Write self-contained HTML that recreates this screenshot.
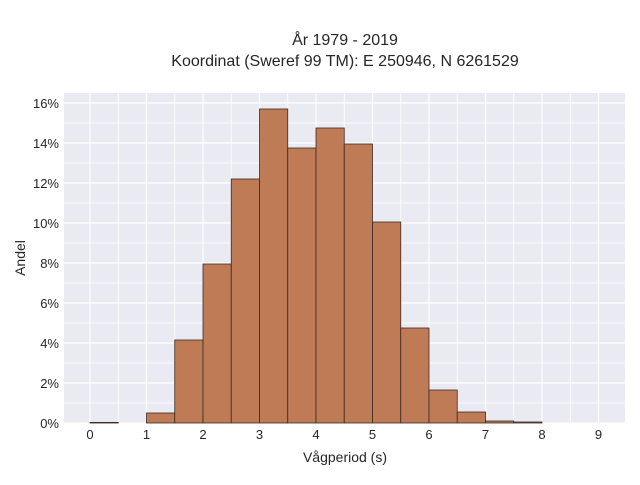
<!DOCTYPE html>
<html><head><meta charset="utf-8"><style>
body{margin:0;background:#fff;font-family:"Liberation Sans",sans-serif;}
</style></head><body>
<svg id="c" width="640" height="480" xmlns="http://www.w3.org/2000/svg">
<text x="345" y="45" text-anchor="middle" font-size="16" fill="#262626">År 1979 - 2019</text>
<text x="345" y="66" text-anchor="middle" font-size="16" fill="#262626">Koordinat (Sweref 99 TM): E 250946, N 6261529</text>
<rect x="64" y="93" width="561" height="330" fill="#eaeaf2"/>
<g id="grid"></g><g id="bars"></g><g id="ticks"></g>
<text x="345" y="462" text-anchor="middle" font-size="14" fill="#262626">Vågperiod (s)</text>
<text transform="translate(25,258) rotate(-90)" text-anchor="middle" font-size="14" fill="#262626">Andel</text>
</svg>
<script>
const binStarts=[0,0.5,1,1.5,2,2.5,3,3.5,4,4.5,5,5.5,6,6.5,7,7.5];
const shares=[0.03,0,0.5,4.15,7.95,12.2,15.7,13.75,14.75,13.95,10.05,4.75,1.65,0.55,0.1,0.05];
const binWidth=0.5;
const xTicks=[0,1,2,3,4,5,6,7,8,9];
const yTicks=[0,2,4,6,8,10,12,14,16];
const X=v=>90+v*56.5, Y=v=>423-v*20;
const NS="http://www.w3.org/2000/svg";
const grid=document.getElementById('grid'),bars=document.getElementById('bars'),ticks=document.getElementById('ticks');
function mk(tag,a,p){const e=document.createElementNS(NS,tag);for(const k in a)e.setAttribute(k,a[k]);p.appendChild(e);return e;}
for(let v=-0.5;v<=9.5;v+=0.5){const x=X(v);if(x<64||x>625)continue;
 const l=mk('line',{x1:x,x2:x,y1:93,y2:423,stroke:'#fff','stroke-width':Number.isInteger(v)?1.2:0.8},grid);
 
 }
for(let v=0;v<=16.5;v+=1){const y=Y(v);
 const l=mk('line',{x1:64,x2:625,y1:y,y2:y,stroke:'#fff','stroke-width':v%2===0?1.2:0.8},grid);
 
 }
binStarts.forEach((b,i)=>{if(shares[i]<=0)return;
 const r=mk('rect',{x:X(b),y:Y(shares[i]),width:X(b+binWidth)-X(b),height:Y(0)-Y(shares[i]),fill:'#bf7b55',stroke:'#3a2a20','stroke-width':0.8},bars);
 
 });
xTicks.forEach(t=>{const e=mk('text',{x:X(t),y:439,'text-anchor':'middle','font-size':13,fill:'#262626'},ticks);e.textContent=t;
 
 });
yTicks.forEach(t=>{const e=mk('text',{x:59,y:Y(t)+5,'text-anchor':'end','font-size':13,fill:'#262626'},ticks);e.textContent=t+'%';
 
 });
</script>
</body></html>
